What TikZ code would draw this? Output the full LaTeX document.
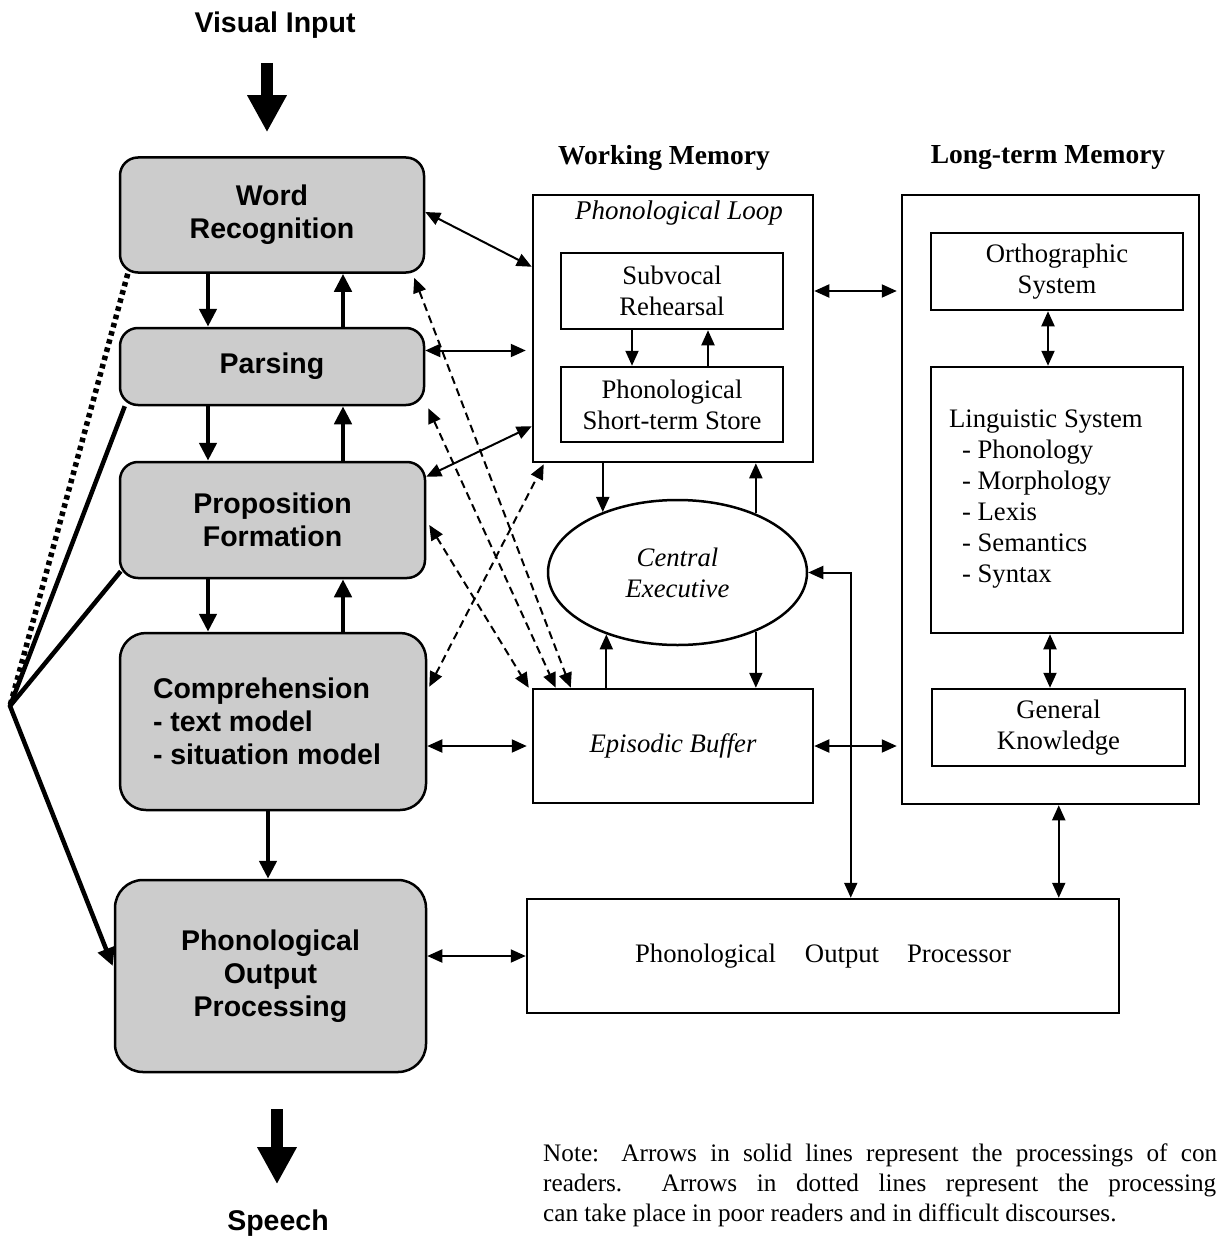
\documentclass[tikz,border=0pt]{standalone}
\usepackage{fontspec}
\setmainfont{Liberation Serif}
\setsansfont{Liberation Sans}
\usetikzlibrary{arrows.meta,calc,shapes.geometric}

\begin{document}
\begin{tikzpicture}[x=1pt, y=-1pt,
  procbox/.style={draw, line width=2.5pt, fill=black!20, rounded corners=#1, inner sep=0pt,
    align=center, font=\sffamily\bfseries\fontsize{28.5pt}{33pt}\selectfont},
  procbox/.default=18pt,
  membox/.style={draw, line width=2.5pt, inner sep=0pt, align=center,
    font=\fontsize{26.7pt}{31pt}\selectfont},
  memital/.style={font=\itshape\fontsize{26.7pt}{31pt}\selectfont},
  heading/.style={font=\bfseries\fontsize{27.5pt}{33pt}\selectfont},
  iolabel/.style={font=\sffamily\bfseries\fontsize{28.5pt}{33pt}\selectfont},
  notefont/.style={anchor=base west, inner sep=0pt, font=\fontsize{25.2pt}{30pt}\selectfont},
  arr/.style={line width=2pt, -{Triangle[length=15pt,width=13pt]}},
  dblarr/.style={line width=2pt, {Triangle[length=15pt,width=13pt]}-{Triangle[length=15pt,width=13pt]}},
  dasharr/.style={line width=2pt, dash pattern=on 8pt off 5pt,
    {Triangle[length=15pt,width=13pt]}-{Triangle[length=15pt,width=13pt]}},
  thickarr/.style={line width=4.5pt, -{Triangle[length=18pt,width=17pt]}},
  bigarr/.style={line width=12pt, -{Triangle[length=37pt,width=37pt]}},
]
\useasboundingbox (0,0) rectangle (1219,1241);
\fill[white] (0,0) rectangle (1219,1241);

% ---------- reading process column ----------
\node[iolabel] (vi) at (275,25) {Visual Input};
\node[iolabel] (sp) at (278,1223) {Speech};

\node[procbox, minimum width=304pt, minimum height=115pt] (wr) at (272,215) {Word\\Recognition};
\node[procbox, minimum width=304pt, minimum height=77pt] (pars) at (272,366.5) {\raisebox{-2pt}{Parsing}};
\node[procbox, minimum width=305pt, minimum height=116pt] (prop) at (272.5,520) {Proposition\\Formation};
\node[procbox=26pt, minimum width=306pt, minimum height=177pt, align=left] (comp) at (273,721.5)
  {\hspace*{-12pt}Comprehension\\\hspace*{-12pt}- text model\\\hspace*{-12pt}- situation model};
\node[procbox=28pt, minimum width=311pt, minimum height=192pt] (pop) at (270.5,976)
  {Phonological\\Output\\Processing};

% ---------- working memory ----------
\node[heading] (wmh) at (664,158) {Working Memory};
\node[membox, minimum width=280pt, minimum height=267pt] (pl) at (673,328.5) {};
\node[font=\itshape\fontsize{27pt}{31pt}\selectfont] (plt) at (679,213) {Phonological Loop};
\node[membox, minimum width=222pt, minimum height=76pt] (sr) at (672,291) {Subvocal\\Rehearsal};
\node[membox, minimum width=222pt, minimum height=75pt] (sts) at (672,404.5) {Phonological\\Short-term Store};
\node[membox, memital, ellipse, minimum width=259pt, minimum height=145pt] (ce) at (677.5,572.5) {Central\\Executive};
\node[membox, memital, minimum width=280pt, minimum height=114pt] (eb) at (673,746) {Episodic Buffer};
\node[membox, minimum width=592pt, minimum height=114pt] (proc) at (823,956)
  {Phonological\hspace{29pt}Output\hspace{28pt}Processor};

% ---------- long-term memory ----------
\node[heading] (ltmh) at (1048,158) {Long-term Memory};
\node[membox, minimum width=297pt, minimum height=609pt] (ltm) at (1050.5,499.5) {};
\node[membox, minimum width=252pt, minimum height=77pt] (orth) at (1057,271.5) {Orthographic\\System};
\node[membox, minimum width=252pt, minimum height=266pt] (ling) at (1057,500) {};
\node[anchor=north west, align=left, font=\fontsize{26.7pt}{31pt}\selectfont] (lingtext) at (945.5,406)
  {Linguistic System\\\hspace*{13pt}- Phonology\\\hspace*{13pt}- Morphology\\\hspace*{13pt}- Lexis\\\hspace*{13pt}- Semantics\\\hspace*{13pt}- Syntax};
\node[membox, minimum width=253pt, minimum height=77pt] (gk) at (1058.5,727.5) {General\\Knowledge};

% ---------- input and output ----------
\draw[bigarr] ($(vi.south)+(-8,21)$) -- ($(wr.north)+(-5,-24)$);
\draw[bigarr] ($(pop.south)+(6.5,36)$) -- ($(sp.north)+(-1,-22)$);

% ---------- bottom-up and top-down flow ----------
\draw[thickarr] ($(wr.south)+(-64,0)$) -- ($(pars.north)+(-64,0)$);
\draw[thickarr] ($(pars.north)+(71,0)$) -- ($(wr.south)+(71,0)$);
\draw[thickarr] ($(pars.south)+(-64,0)$) -- ($(prop.north)+(-64.5,0)$);
\draw[thickarr] ($(prop.north)+(70.5,0)$) -- ($(pars.south)+(71,0)$);
\draw[thickarr] ($(prop.south)+(-64.5,0)$) -- ($(comp.north)+(-65,0)$);
\draw[thickarr] ($(comp.north)+(70,0)$) -- ($(prop.south)+(70.5,0)$);
\draw[thickarr] ($(comp.south)+(-5,0)$) -- ($(pop.north)+(-2.5,0)$);

% ---------- direct routes to output ----------
\coordinate (apex) at (10,706);
\draw[line width=5.5pt, dash pattern=on 4.5pt off 4pt] ($(wr.south west)+(9,0)$) -- (apex);
\draw[line width=4.5pt] ($(prop.south west)+(2,-8)$) -- (apex);
\draw[thickarr, line join=miter] ($(pars.south west)+(6,0)$) -- (apex) -- ($(pop.west)+(-1,-10)$);

% ---------- links to working memory ----------
\draw[dblarr] ($(wr.east)+(0,-3)$) -- ($(pl.north west)+(0,73)$);
\draw[dblarr] ($(pars.east)+(0,-16)$) -- ($(pl.west)+(-6,22)$);
\draw[dblarr] ($(prop.north east)+(0,16)$) -- ($(pl.south west)+(0,-37)$);
\draw[dblarr] (comp.east |- eb.west) -- ($(eb.west)+(-5,0)$);
\draw[dblarr] (pop.east |- proc.west) -- (proc.west);

\draw[dasharr] ($(wr.south east)+(-11,4)$) -- ($(eb.north west)+(39,0)$);
\draw[dasharr] ($(pars.south east)+(3,2)$) -- ($(eb.north west)+(24,0)$);
\draw[dasharr] ($(prop.east)+(3,5)$) -- ($(eb.north west)+(-3,0)$);
\draw[dasharr] ($(comp.north east)+(2,55)$) -- ($(pl.south west)+(12,1)$);

% ---------- inside working memory ----------
\draw[arr] ($(sr.south)+(-40,0)$) -- ($(sts.north)+(-40,0)$);
\draw[arr] ($(sts.north)+(36,0)$) -- ($(sr.south)+(36,0)$);
\draw[arr] (ce.141.5 |- pl.south) -- (ce.141.5);
\draw[arr] (ce.37.4) -- (ce.37.4 |- pl.south);
\draw[arr] (ce.-37.4) -- (ce.-37.4 |- eb.north);
\draw[arr] (ce.-139.8 |- eb.north) -- (ce.-139.8);

% ---------- memory systems and output processor ----------
\draw[dblarr] (pl.east |- sr.east) -- ($(ltm.west |- sr.east)+(-4,0)$);
\draw[dblarr] (eb.east) -- ($(ltm.west |- eb.east)+(-4,0)$);
\draw[dblarr] (ce.east) -| ($(proc.north west)+(325,0)$);
\draw[dblarr] ($(ltm.south west)+(158,0)$) -- ($(proc.north west)+(533,0)$);
\draw[dblarr] ($(orth.south)+(-9,0)$) -- ($(ling.north)+(-9,0)$);
\draw[dblarr] ($(ling.south)+(-7,0)$) -- ($(gk.north)+(-8.5,0)$);

% ---------- note ----------
\node[notefont] (n1) at (543,1161) {\makebox[674pt][s]{Note: Arrows in solid lines represent the processings of con}};
\node[notefont] (n2) at (543,1191) {\makebox[673pt][s]{readers.\ \ Arrows in dotted lines represent the processing}};
\node[notefont] (n3) at (543,1221) {can take place in poor readers and in difficult discourses.};
\end{tikzpicture}
\end{document}
